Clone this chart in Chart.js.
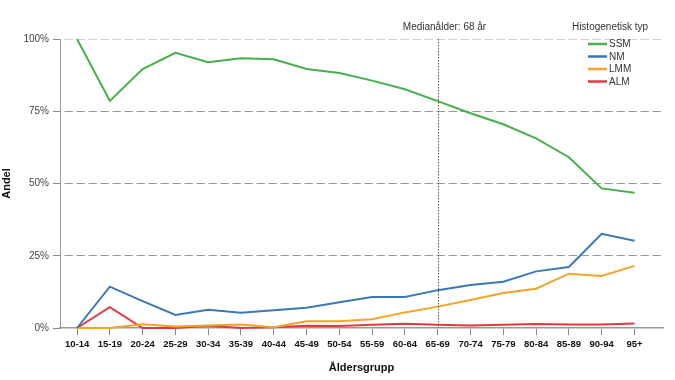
<!DOCTYPE html>
<html>
<head>
<meta charset="utf-8">
<script src="https://cdn.jsdelivr.net/npm/chart.js@4/dist/chart.umd.min.js"></script>
<style>
html,body{margin:0;padding:0;background:#fff;}
#wrap{width:675px;height:380px;position:relative;}
</style>
</head>
<body>
<div id="wrap"><canvas id="c" width="675" height="380"></canvas></div>
<script>
const ageGroups = ['10-14','15-19','20-24','25-29','30-34','35-39','40-44','45-49','50-54','55-59','60-64','65-69','70-74','75-79','80-84','85-89','90-94','95+'];
const ssm = [100, 78.6, 89.6, 95.2, 92.0, 93.3, 93.0, 89.6, 88.2, 85.6, 82.6, 78.5, 74.3, 70.5, 65.6, 59.1, 48.3, 46.8];
const nm  = [0, 14.3, 9.3, 4.5, 6.3, 5.3, 6.1, 7.0, 8.9, 10.7, 10.7, 13.1, 14.9, 16.0, 19.6, 21.1, 32.6, 30.2];
const lmm = [0, 0, 1.3, 0.5, 0.9, 1.2, 0.3, 2.3, 2.3, 3.0, 5.4, 7.4, 9.7, 12.1, 13.6, 18.8, 18.0, 21.5];
const alm = [0, 7.2, 0, 0, 0.8, 0, 0.3, 0.8, 0.7, 1.1, 1.5, 1.1, 0.9, 1.1, 1.4, 1.2, 1.2, 1.6];
const seriesNames = ['SSM','NM','LMM','ALM'];
const seriesColors = ['#45b04b','#3a79b6','#f6a32a','#e2393f'];
const yTicks = [0, 25, 50, 75, 100];
const medianGroup = '65-69';
const medianLabel = 'Medianålder: 68 år';
const legendTitle = 'Histogenetisk typ';
const xTitle = 'Åldersgrupp';
const yTitle = 'Andel';

const FONT = "'Liberation Sans', Arial, sans-serif";
const toPts = arr => arr.map((v, i) => ({x: i, y: v}));
const allSeries = [ssm, nm, lmm, alm];

const overlay = {
  id: 'overlay',
  afterDatasetsDraw(chart) {
    const ctx = chart.ctx;
    const area = chart.chartArea;
    const xs = chart.scales.x;
    const mx = Math.round(xs.getPixelForValue(ageGroups.indexOf(medianGroup))) + 0.5;
    ctx.save();
    ctx.strokeStyle = '#555';
    ctx.lineWidth = 1;
    ctx.setLineDash([1.5, 1.5]);
    ctx.beginPath();
    ctx.moveTo(mx, area.top);
    ctx.lineTo(mx, area.bottom);
    ctx.stroke();
    ctx.setLineDash([]);
    ctx.fillStyle = '#333';
    ctx.font = '10px ' + FONT;
    ctx.textAlign = 'center';
    ctx.textBaseline = 'middle';
    ctx.fillText(medianLabel, mx + 6, area.top - 12);
    // legend
    ctx.fillText(legendTitle, 610, area.top - 12);
    ctx.textAlign = 'left';
    const rowY0 = area.top + 5;
    seriesNames.forEach((name, i) => {
      const y = rowY0 + i * 12.5;
      ctx.strokeStyle = seriesColors[i];
      ctx.lineWidth = 2.5;
      ctx.beginPath();
      ctx.moveTo(588, y);
      ctx.lineTo(607, y);
      ctx.stroke();
      ctx.fillStyle = '#333';
      ctx.fillText(name, 609, y + 0.5);
    });
    ctx.restore();
  }
};

new Chart(document.getElementById('c'), {
  type: 'line',
  data: {
    datasets: allSeries.map((arr, i) => ({
      label: seriesNames[i],
      data: toPts(arr),
      borderColor: seriesColors[i],
      backgroundColor: seriesColors[i],
      borderWidth: 2,
      pointRadius: 0,
      tension: 0,
      clip: false
    }))
  },
  options: {
    responsive: false,
    animation: false,
    devicePixelRatio: 1,
    layout: {padding: {top: 39, right: 12, left: 0, bottom: 0}},
    plugins: {legend: {display: false}, tooltip: {enabled: false}},
    scales: {
      x: {
        type: 'linear',
        min: -0.52,
        max: 17.87,
        afterBuildTicks: s => { s.ticks = ageGroups.map((_, i) => ({value: i})); },
        afterFit: s => { s.height = 52; },
        ticks: {
          autoSkip: false,
          maxRotation: 0,
          padding: 4,
          color: '#111',
          font: {family: FONT, size: 9.5, weight: 'bold'},
          callback: v => ageGroups[v]
        },
        grid: {drawOnChartArea: false, drawTicks: true, tickLength: 7, tickColor: '#888', tickWidth: 1},
        border: {display: true, color: '#999', width: 1.5},
        title: {display: true, text: xTitle, color: '#111', font: {family: FONT, size: 11, weight: 'bold'}, padding: {top: 0, bottom: 5}}
      },
      y: {
        type: 'linear',
        min: 0,
        max: 100,
        afterBuildTicks: s => { s.ticks = yTicks.map(v => ({value: v})); },
        afterFit: s => { s.width = 60; },
        ticks: {
          padding: 4,
          color: '#444',
          font: {family: FONT, size: 10},
          callback: v => v + '%'
        },
        grid: {
          drawTicks: true,
          tickLength: 7,
          tickColor: '#888',
          lineWidth: 1,
          color: ctx => ctx.tick && ctx.tick.value === 0 ? 'rgba(0,0,0,0)' : (ctx.tick && ctx.tick.value === 100 ? '#cfcfcf' : '#999')
        },
        border: {display: true, color: '#999', width: 1, dash: [8.5, 3.5], dashOffset: 8.5},
        title: {display: true, text: yTitle, color: '#111', font: {family: FONT, size: 11, weight: 'bold'}, padding: {top: 0, bottom: 0}}
      }
    }
  },
  plugins: [overlay]
});
</script>
</body>
</html>
